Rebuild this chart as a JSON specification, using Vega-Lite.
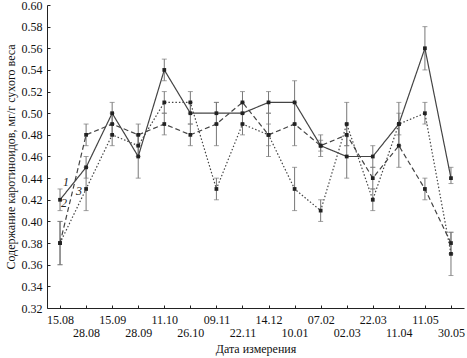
{
  "$schema": "https://vega.github.io/schema/vega-lite/v6.json",
  "width": 417,
  "height": 303,
  "autosize": {"type": "none"},
  "padding": {"left": 47, "top": 5, "right": 3, "bottom": 50},
  "background": "white",
  "config": {
    "view": {"stroke": null},
    "font": "Liberation Serif",
    "axis": {
      "grid": false,
      "domainColor": "#222",
      "tickColor": "#222",
      "labelColor": "#111",
      "titleColor": "#111",
      "labelFont": "Liberation Serif",
      "titleFont": "Liberation Serif",
      "labelFontSize": 12,
      "titleFontSize": 12,
      "titleFontWeight": "normal"
    },
    "axisY": {
      "labelOverlap": false,
      "tickSize": -3,
      "labelPadding": 8,
      "titlePadding": 4,
      "format": ".2f"
    }
  },
  "datasets": {
    "series": [
      {"date": "15.08", "series": "1", "value": 0.42, "lo": 0.41, "hi": 0.43},
      {"date": "28.08", "series": "1", "value": 0.45, "lo": 0.44, "hi": 0.46},
      {"date": "15.09", "series": "1", "value": 0.50, "lo": 0.49, "hi": 0.51},
      {"date": "28.09", "series": "1", "value": 0.46, "lo": 0.44, "hi": 0.48},
      {"date": "11.10", "series": "1", "value": 0.54, "lo": 0.53, "hi": 0.55},
      {"date": "26.10", "series": "1", "value": 0.50, "lo": 0.49, "hi": 0.51},
      {"date": "09.11", "series": "1", "value": 0.50, "lo": 0.49, "hi": 0.51},
      {"date": "22.11", "series": "1", "value": 0.50, "lo": 0.49, "hi": 0.51},
      {"date": "14.12", "series": "1", "value": 0.51, "lo": 0.50, "hi": 0.52},
      {"date": "10.01", "series": "1", "value": 0.51, "lo": 0.49, "hi": 0.53},
      {"date": "07.02", "series": "1", "value": 0.47, "lo": 0.465, "hi": 0.475},
      {"date": "02.03", "series": "1", "value": 0.46, "lo": 0.44, "hi": 0.48},
      {"date": "22.03", "series": "1", "value": 0.46, "lo": 0.45, "hi": 0.47},
      {"date": "11.04", "series": "1", "value": 0.49, "lo": 0.47, "hi": 0.51},
      {"date": "11.05", "series": "1", "value": 0.56, "lo": 0.54, "hi": 0.58},
      {"date": "30.05", "series": "1", "value": 0.44, "lo": 0.435, "hi": 0.45},
      {"date": "15.08", "series": "2", "value": 0.38, "lo": 0.36, "hi": 0.40},
      {"date": "28.08", "series": "2", "value": 0.48, "lo": 0.47, "hi": 0.49},
      {"date": "15.09", "series": "2", "value": 0.49, "lo": 0.48, "hi": 0.50},
      {"date": "28.09", "series": "2", "value": 0.48, "lo": 0.47, "hi": 0.49},
      {"date": "11.10", "series": "2", "value": 0.49, "lo": 0.48, "hi": 0.50},
      {"date": "26.10", "series": "2", "value": 0.48, "lo": 0.47, "hi": 0.49},
      {"date": "09.11", "series": "2", "value": 0.49, "lo": 0.47, "hi": 0.51},
      {"date": "22.11", "series": "2", "value": 0.51, "lo": 0.50, "hi": 0.52},
      {"date": "14.12", "series": "2", "value": 0.48, "lo": 0.46, "hi": 0.50},
      {"date": "10.01", "series": "2", "value": 0.49, "lo": 0.47, "hi": 0.51},
      {"date": "07.02", "series": "2", "value": 0.47, "lo": 0.46, "hi": 0.48},
      {"date": "02.03", "series": "2", "value": 0.48, "lo": 0.47, "hi": 0.49},
      {"date": "22.03", "series": "2", "value": 0.44, "lo": 0.43, "hi": 0.45},
      {"date": "11.04", "series": "2", "value": 0.47, "lo": 0.45, "hi": 0.49},
      {"date": "11.05", "series": "2", "value": 0.43, "lo": 0.42, "hi": 0.44},
      {"date": "30.05", "series": "2", "value": 0.38, "lo": 0.37, "hi": 0.39},
      {"date": "15.08", "series": "3", "value": 0.38, "lo": 0.36, "hi": 0.40},
      {"date": "28.08", "series": "3", "value": 0.43, "lo": 0.41, "hi": 0.45},
      {"date": "15.09", "series": "3", "value": 0.48, "lo": 0.47, "hi": 0.49},
      {"date": "28.09", "series": "3", "value": 0.47, "lo": 0.46, "hi": 0.48},
      {"date": "11.10", "series": "3", "value": 0.51, "lo": 0.50, "hi": 0.52},
      {"date": "26.10", "series": "3", "value": 0.51, "lo": 0.50, "hi": 0.52},
      {"date": "09.11", "series": "3", "value": 0.43, "lo": 0.42, "hi": 0.44},
      {"date": "22.11", "series": "3", "value": 0.49, "lo": 0.48, "hi": 0.50},
      {"date": "14.12", "series": "3", "value": 0.48, "lo": 0.47, "hi": 0.49},
      {"date": "10.01", "series": "3", "value": 0.43, "lo": 0.41, "hi": 0.45},
      {"date": "07.02", "series": "3", "value": 0.41, "lo": 0.40, "hi": 0.42},
      {"date": "02.03", "series": "3", "value": 0.49, "lo": 0.47, "hi": 0.51},
      {"date": "22.03", "series": "3", "value": 0.42, "lo": 0.41, "hi": 0.43},
      {"date": "11.04", "series": "3", "value": 0.49, "lo": 0.48, "hi": 0.50},
      {"date": "11.05", "series": "3", "value": 0.50, "lo": 0.49, "hi": 0.51},
      {"date": "30.05", "series": "3", "value": 0.37, "lo": 0.35, "hi": 0.39}
    ],
    "labels": [
      {"date": "15.08", "series": "1", "value": 0.4367},
      {"date": "15.08", "series": "2", "value": 0.4167},
      {"date": "15.08", "series": "3", "value": 0.4284}
    ]
  },
  "encoding": {
    "x": {
      "field": "date",
      "type": "ordinal",
      "scale": {
        "type": "point",
        "padding": 0.5,
        "domain": ["15.08","28.08","15.09","28.09","11.10","26.10","09.11","22.11","14.12","10.01","07.02","02.03","22.03","11.04","11.05","30.05"]
      },
      "axis": {
        "title": "Дата измерения",
        "labelAngle": 0,
        "labelOverlap": false,
        "tickSize": -3,
        "labelPadding": 9,
        "labelLineHeight": 13,
        "labelBaseline": "top",
        "titlePadding": 5,
        "labelExpr": "indexof(['28.08','28.09','26.10','22.11','10.01','02.03','11.04','30.05'], datum.value) >= 0 ? ['', datum.value] : datum.value"
      }
    }
  },
  "layer": [
    {
      "data": {"name": "series"},
      "mark": {"type": "rule", "color": "#777", "strokeWidth": 1},
      "encoding": {
        "y": {
          "field": "lo",
          "type": "quantitative",
          "scale": {"domain": [0.32, 0.60], "nice": false, "zero": false},
          "axis": {
            "title": "Содержание каротиноидов, мг/г сухого веса",
            "values": [0.32,0.34,0.36,0.38,0.40,0.42,0.44,0.46,0.48,0.50,0.52,0.54,0.56,0.58,0.60]
          }
        },
        "y2": {"field": "hi"}
      }
    },
    {
      "data": {"name": "series"},
      "mark": {"type": "tick", "color": "#777", "size": 5, "thickness": 1},
      "encoding": {"y": {"field": "lo", "type": "quantitative", "axis": {"title": "Содержание каротиноидов, мг/г сухого веса", "values": [0.32,0.34,0.36,0.38,0.40,0.42,0.44,0.46,0.48,0.50,0.52,0.54,0.56,0.58,0.60]}}}
    },
    {
      "data": {"name": "series"},
      "mark": {"type": "tick", "color": "#777", "size": 5, "thickness": 1},
      "encoding": {"y": {"field": "hi", "type": "quantitative", "axis": {"title": "Содержание каротиноидов, мг/г сухого веса", "values": [0.32,0.34,0.36,0.38,0.40,0.42,0.44,0.46,0.48,0.50,0.52,0.54,0.56,0.58,0.60]}}}
    },
    {
      "data": {"name": "series"},
      "mark": {"type": "line", "color": "#444", "strokeWidth": 1.2},
      "encoding": {
        "y": {"field": "value", "type": "quantitative", "axis": {"title": "Содержание каротиноидов, мг/г сухого веса", "values": [0.32,0.34,0.36,0.38,0.40,0.42,0.44,0.46,0.48,0.50,0.52,0.54,0.56,0.58,0.60]}},
        "detail": {"field": "series"},
        "strokeDash": {
          "field": "series",
          "type": "nominal",
          "scale": {"domain": ["1", "2", "3"], "range": [[1, 0], [5, 3], [1.5, 2]]},
          "legend": null
        }
      }
    },
    {
      "data": {"name": "series"},
      "mark": {"type": "point", "shape": "square", "filled": true, "size": 14, "color": "#222", "opacity": 1},
      "encoding": {"y": {"field": "value", "type": "quantitative", "axis": {"title": "Содержание каротиноидов, мг/г сухого веса", "values": [0.32,0.34,0.36,0.38,0.40,0.42,0.44,0.46,0.48,0.50,0.52,0.54,0.56,0.58,0.60]}}}
    },
    {
      "data": {"name": "labels"},
      "transform": [{"filter": "datum.series == '1'"}],
      "mark": {"type": "text", "font": "Liberation Serif", "fontStyle": "italic", "fontSize": 12, "color": "#222", "baseline": "middle", "align": "center", "dx": 6},
      "encoding": {"y": {"field": "value", "type": "quantitative", "axis": {"title": "Содержание каротиноидов, мг/г сухого веса", "values": [0.32,0.34,0.36,0.38,0.40,0.42,0.44,0.46,0.48,0.50,0.52,0.54,0.56,0.58,0.60]}}, "text": {"field": "series"}}
    },
    {
      "data": {"name": "labels"},
      "transform": [{"filter": "datum.series == '2'"}],
      "mark": {"type": "text", "font": "Liberation Serif", "fontStyle": "italic", "fontSize": 12, "color": "#222", "baseline": "middle", "align": "center", "dx": 4},
      "encoding": {"y": {"field": "value", "type": "quantitative", "axis": {"title": "Содержание каротиноидов, мг/г сухого веса", "values": [0.32,0.34,0.36,0.38,0.40,0.42,0.44,0.46,0.48,0.50,0.52,0.54,0.56,0.58,0.60]}}, "text": {"field": "series"}}
    },
    {
      "data": {"name": "labels"},
      "transform": [{"filter": "datum.series == '3'"}],
      "mark": {"type": "text", "font": "Liberation Serif", "fontStyle": "italic", "fontSize": 12, "color": "#222", "baseline": "middle", "align": "center", "dx": 19},
      "encoding": {"y": {"field": "value", "type": "quantitative", "axis": {"title": "Содержание каротиноидов, мг/г сухого веса", "values": [0.32,0.34,0.36,0.38,0.40,0.42,0.44,0.46,0.48,0.50,0.52,0.54,0.56,0.58,0.60]}}, "text": {"field": "series"}}
    }
  ]
}
